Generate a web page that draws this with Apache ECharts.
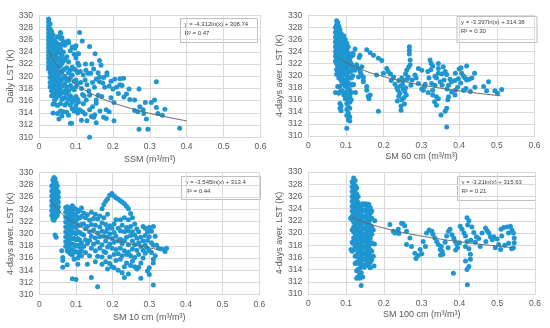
<!DOCTYPE html>
<html>
<head>
<meta charset="utf-8">
<script src="https://cdn.jsdelivr.net/npm/echarts@6/dist/echarts.min.js"></script>
<style>html,body{margin:0;padding:0;background:#fff;}#c{width:550px;height:328px;}</style>
</head>
<body>
<div id="c"></div>
<script>
// ---------- DATA ----------
const xTicks = [0, 0.1, 0.2, 0.3, 0.4, 0.5, 0.6];
const yTicks = [310, 312, 314, 316, 318, 320, 322, 324, 326, 328, 330];

// Panel 1: SSM vs Daily LST  (columns: [x, [y...]] and single points)
const ssmCols = [
 [0.026,[329.4,328.9,328.3,327.7,327.1,326.5,325.9,325.3,324.7,324.1,323.5,322.9,322.3,321.7,321.2]],
 [0.030,[328.6,327.8,327,326.2,325.4,324.6,323.8,323,322.2,321.4,320.6,319.8,319,318.3]],
 [0.034,[327.4,326.5,325.6,324.7,323.8,322.9,322,321.1,320.2,319.3,318.4,317.6,316.8]],
 [0.038,[326.8,325.9,325,324.1,323.2,322.3,321.4,320.5,319.6,318.7,317.8,316.9,315.4,314]],
 [0.042,[326,325.1,324.2,323.3,322.4,321.5,320.6,319.7,318.8,317.9,317,316.1,315.5]],
 [0.046,[325.6,324.5,323.6,322.7,321.8,320.9,320,319.1,318.2,317.3,316.4]],
 [0.050,[326.5,324.9,323.9,322.9,321.9,320.9,319.9,318.9,317.9,316.9,315.2,313.9]],
 [0.054,[325.2,323.8,322.6,321.6,320.6,319.6,318.6,317.6,316.8,313]],
 [0.058,[327,326.2,324.5,323,321.7,320.4,319.2,318,317.1,315.5,314.3]],
 [0.062,[326.3,325.2,323.4,322.1,320.8,319.6,318.4,317.3,316.2,313.5]],
 [0.066,[325.7,324,322.5,321,319.7,318.5,317.4,316.4,314.2]],
 [0.070,[322.8,321.2,320,318.8,317.6,316.5,315.3]],
 [0.075,[325.5,323.2,321.4,319.5,318.2,317,315.6,314.1]],
 [0.080,[325.5,322.4,320.6,319.3,317.6,316.2,313.6]],
 [0.085,[324.2,321,319.8,318.5,316.8,315.3,312.3]],
 [0.090,[324.8,321.5,320.2,318,316.4,315.8,314.7]],
 [0.095,[323.6,321.2,319.2,317.8,316,314.3]],
 [0.100,[325,323,321,319.4,318.3,316.7,315.2,314.6]],
 [0.105,[323.7,322.2,320.6,318.8,316.2,314]]
];
const ssmPts = [
 [0.11,327.2],[0.058,327.2],[0.117,325.8],[0.137,324.9],[0.152,323.7],[0.164,322.6],[0.126,322],[0.107,323.7],[0.079,325.8],[0.07,325.1],[0.097,324.6],
 [0.112,320.8],[0.12,320.2],[0.125,319.4],[0.13,318.6],[0.115,318],[0.135,317.6],[0.14,320.5],[0.145,319],[0.15,318.2],[0.155,319.5],[0.16,320.6],
 [0.184,320.6],[0.184,320.2],[0.164,319.9],[0.205,319.5],[0.219,319.6],[0.229,319.7],[0.219,318.6],[0.21,318.2],[0.2,317.9],[0.19,318.4],[0.178,318.2],[0.173,318.9],[0.164,319.1],
 [0.244,317.9],[0.237,317.1],[0.246,316.2],[0.271,317.9],[0.259,316.1],[0.318,319.1],[0.313,316.1],[0.318,314.9],[0.304,315.7],[0.288,315.7],[0.273,315.0],[0.259,314.4],[0.268,314.2],[0.282,314.5],[0.284,313.9],[0.291,313.0],[0.271,311.3],[0.295,311.3],[0.322,313.9],[0.334,313.6],[0.341,314.6],[0.381,311.5],
 [0.203,315.7],[0.203,312.7],[0.182,314.5],[0.182,313.1],[0.155,315.6],[0.151,313.7],[0.155,312.4],[0.137,314.5],[0.115,312.8],[0.088,312.3],[0.137,310.0],[0.142,313.4],[0.128,316.1],[0.137,316.9],[0.155,316.1],[0.17,316.7],[0.145,315],[0.12,315.5],[0.125,313.8],[0.148,313.3],[0.165,314.3],[0.16,316.9],[0.19,314.2],[0.175,313.3],
 [0.108,321.8],[0.113,319],[0.118,317],[0.122,316.8],[0.127,321],[0.133,320.5],[0.143,322],[0.148,321.2],[0.168,321.8],[0.175,319.8],[0.195,319.2],[0.215,317.2],[0.225,318.5],[0.195,316.5],[0.23,316.6],[0.107,315.8],[0.11,314.5],[0.118,314.2],[0.13,312.7]
];
const ssmTrend = [[0.027,324.31],[0.03,323.86],[0.04,322.62],[0.05,321.66],[0.07,320.21],[0.1,318.67],[0.15,316.92],[0.2,315.68],[0.25,314.72],[0.3,313.93],[0.35,313.27],[0.4,312.69]];

// Panel 2: SM 60 cm
const sm60Cols = [
 [0.072,[328,327.2,326.4,325.6,324.8,324,323.2,322.4,317.2]],
 [0.075,[329.1,328.4,327.6,326.8,326,325.2,324.4,323.6,322.8,322,321,320.2]],
 [0.078,[328.8,328,327.2,326.4,325.6,324.8,324,323.2,322.4,321.6,320.6,318.2]],
 [0.081,[328.2,327.4,326.6,325.8,325,324.2,323.4,322.6,321.8,320.8,319.6,317.1]],
 [0.084,[327.6,326.8,326,325.2,324.4,323.6,322.8,322,321,320,318.2,317.4,315.4,314.6]],
 [0.087,[327,326.2,325.4,324.6,323.8,323,322.2,321.4,320.5,319.2,315,314.2]],
 [0.090,[326.4,325.6,324.8,324,323.2,322.4,321.6,320.6,319.8,318.8,317.5]],
 [0.094,[326.6,325.6,324.6,323.6,322.6,321.6,320.5,318.6,316.8]],
 [0.098,[326,325,324,323,322,321.2,320.2,319.2,318.2,317.2,316.2]],
 [0.102,[325.4,324.4,323.4,322.4,321.4,320.4,319.4,318.4,317.4,316.4,315.4,314.4,313.4,311.3]],
 [0.106,[324.8,323.8,322.8,321.8,320.8,319.8,318.8,317.8,316.8,315.8,314.8,313.8,312.7]],
 [0.110,[323.6,322.6,321.6,320.6,319.6,318.6,317.6,316.6,315.6,314.6,313.2,312.5]],
 [0.114,[323.2,322,320.8,319.6,318.4,317.2,316]],
 [0.118,[323.4,321.5,320,318.6]]
];
const sm60Pts = [
 [0.119,323.7],[0.124,324.4],[0.137,323.4],[0.128,321.8],[0.133,321.2],[0.138,320.6],[0.146,319.8],[0.146,319.2],[0.14,320.2],[0.155,324.3],[0.164,323.8],[0.173,323.4],[0.186,322.9],[0.195,322.5],[0.142,321.5],[0.133,319.8],[0.146,319.0],[0.155,317.6],[0.164,316.8],[0.161,316.2],[0.159,316.6],[0.155,318.2],[0.181,320.1],[0.199,320.4],[0.186,314.1],[0.124,320.9],[0.12,318.5],[0.125,317.2],[0.135,323],
 [0.212,320.7],[0.208,321.2],[0.218,320.3],[0.226,319.8],[0.22,319.2],[0.23,318.6],[0.235,318],[0.238,317.6],[0.243,317.1],[0.248,316],[0.246,315],[0.246,314.3],[0.25,318.6],[0.252,319.2],[0.256,317.4],[0.24,316.6],[0.244,318.3],[0.254,316.4],[0.258,318],[0.248,319.6],[0.262,319.4],[0.265,319.8],[0.261,320.9],[0.27,321.8],[0.268,324.8],[0.268,324.2],[0.268,323.6],[0.27,322.6],[0.266,321.4],[0.292,321.2],[0.301,320.9],[0.283,320.1],[0.275,319.3],[0.272,318.4],[0.26,316.8],[0.255,315.3],[0.236,315.8],[0.24,319.2],[0.258,320.3],[0.252,317.8],[0.292,318.7],[0.301,317.8],[0.286,319.6],
 [0.323,322.6],[0.326,322],[0.33,321.6],[0.317,320.7],[0.32,319.6],[0.327,318.7],[0.336,318.4],[0.34,319.6],[0.345,321.2],[0.354,320.3],[0.35,319],[0.33,317.6],[0.33,316.8],[0.34,316.5],[0.345,316.2],[0.335,315.7],[0.34,315.1],[0.352,313.5],[0.363,314.1],[0.367,314.6],[0.37,316],[0.372,316.5],[0.367,311.5],[0.305,317.6],[0.308,318.2],[0.31,318.6],[0.336,319.9],[0.345,320.4],[0.358,321.5],[0.363,320.7],[0.367,320.2],[0.376,319.4],[0.38,319],[0.389,319.2],[0.398,319.5],[0.4,321.1],[0.405,321.3],[0.407,320.4],[0.412,319.9],[0.416,319.6],[0.42,319.3],[0.427,319.4],[0.434,319.6],[0.441,320.4],[0.442,318.1],[0.412,317.6],[0.418,317.9],[0.39,317.6],[0.396,318.1],[0.372,318.4],[0.368,317.8],[0.38,317.3],[0.389,316.8],[0.473,317.5],[0.465,318.2],[0.478,319.0],[0.495,317.5],[0.502,317.1],[0.513,317.7],[0.42,321.6],[0.404,318.8],[0.43,317.4],[0.355,318.4],[0.36,319.3],[0.318,317.2],[0.325,321],[0.345,322],[0.39,320.4]
];
const sm60Trend = [[0.075,323.18],[0.1,322.2],[0.15,320.82],[0.2,319.85],[0.25,319.09],[0.3,318.47],[0.35,317.95],[0.4,317.49],[0.45,317.09],[0.51,316.67]];

// Panel 3: SM 10 cm
const sm10Cols = [
 [0.034,[327.8,327,326.2,325.4,324.6,323.8,323]],
 [0.037,[328.8,328,327.2,326.4,325.6,324.8,324,323.2,322.4]],
 [0.040,[329.2,328.4,327.6,326.8,326,325.2,324.4,323.6,322.8,322.2]],
 [0.043,[329,328.2,327.4,326.6,325.8,325,324.2,323.4,322.6,319.8]],
 [0.046,[328.4,327.6,326.8,326,325.2,324.4,323.6,322.8,319.4]],
 [0.049,[327.8,327,326.2,325.4,324.6,323.8,323]],
 [0.052,[326.8,326,325.2,324.4,323.6]],
 [0.072,[324.3,323.5,322.7,321.9,321.1,320.3,319.5,318.7,317.9]],
 [0.076,[324.4,323.6,322.8,322,321.2,320.4,319.6,318.8,318,317.2,314.9]],
 [0.080,[324.2,323.4,322.6,321.8,321,320.2,319.4,318.6,317.8,317]],
 [0.085,[323.9,323.1,322.3,321.5,320.7,319.9,319.1,318.3,317.5,316.7]],
 [0.090,[324.6,323.7,322.8,321.9,321,320.1,319.2,318.3,317.4,316.5,312.6]],
 [0.095,[324.2,323.2,322.2,321.2,320.2,319.2,318.2,317.2,315.8]],
 [0.100,[324,323,322,321,320,319,318,317,312.5]],
 [0.105,[323.6,322.5,321.4,320.3,319.2,318.1,317,316,315]],
 [0.110,[323.8,322.6,321.4,320.2,319,317.8,316.6]],
 [0.115,[324.2,322.8,321.5,320,318.5,317.2,316.4]],
 [0.121,[323.4,321.6,319.8,317.9]],
 [0.126,[322.6,320.8,319,316.9]],
 [0.131,[323.1,321.2,318.4,315]],
 [0.137,[322.2,320.3,318.9,316.4]],
 [0.142,[323.5,321.5,319.6,317.6,312.8]],
 [0.148,[322.5,320.6,318.3]],
 [0.153,[323.2,321.4,319.3,317.2,315.4]],
 [0.159,[322.4,320.1,318.6,316.3,311.3]],
 [0.165,[322.9,321.1,319.5,317.6]],
 [0.171,[324.1,321.8,320.4,318.2,316.2,315]],
 [0.176,[324.8,322.6,319.6,317.1]],
 [0.181,[325.3,321.5,320.3,318.8,316.9,315.4]],
 [0.186,[325.7,323.2,320.8,319.4,317.8,314.2]],
 [0.192,[326.3,321.3,320,318.3,316.2,315.1]],
 [0.198,[326.6,320.9,319.2,317.6,314.6]],
 [0.204,[326.2,321.6,320.2,318.6,316.6,314.4]],
 [0.209,[325.9,322.3,319.6,317.4,315.6]],
 [0.215,[325.7,320.9,318.8,316.7,314]],
 [0.221,[325.4,322.3,320.5,319.1,317.6,315.8]],
 [0.226,[325.2,321.4,318.4,316.4,313.6]],
 [0.232,[324.9,322.6,320.3,318.9,317.2,314.6,312.8]],
 [0.238,[324.5,321,319.4,316.6,315.2]],
 [0.243,[324.1,322.3,320.5,318.2,317,313.4]],
 [0.249,[323.3,321.2,319.7,316.4,314.8]],
 [0.254,[322.6,320.3,318.8,317.5,315.5]],
 [0.260,[321.6,319.8,318.2,316.1,314.6]],
 [0.266,[320.8,319.3,317.3,314.2]],
 [0.271,[320.3,318.5,316.6,314.5]],
 [0.277,[319.4,317.9,315.2,312.7]],
 [0.283,[321.2,318.8,317.3,316]],
 [0.289,[320.9,319.7,318.1,316.8]],
 [0.295,[320.3,318.9,317.6,313.9]],
 [0.300,[321,319.5,317.2,314.4,313.3]],
 [0.306,[320.4,318.5,316.9]],
 [0.311,[321.2,318.1,315.8,315.2,311.6]],
 [0.316,[319.6,316.4]]
];
const sm10Pts = [[0.061,317.2],[0.064,316.1],[0.064,315.6],[0.064,314.5],[0.325,317.6],[0.334,317.5],[0.343,317.1],[0.347,317.6],[0.32,318.1]];
const sm10Trend = [[0.035,325.28],[0.04,324.81],[0.05,324.02],[0.07,322.83],[0.1,321.56],[0.15,320.13],[0.2,319.11],[0.25,318.31],[0.3,317.67],[0.33,317.33]];

// Panel 4: SM 100 cm
const sm100Cols = [
 [0.116,[328.4,327.6,326.8,326,325.2,324.4,323.6,322.8,322.2,320.5,318.5,317]],
 [0.120,[329,328.2,327.4,326.6,325.8,325,324.2,323.4,322.6,321.8,321,320.2,319.2,318.2,317.2]],
 [0.124,[328.6,327.8,327,326.2,325.4,324.6,323.8,323,322.2,321.4,320.6,319.8,318.8,317.6,316.2,315]],
 [0.128,[327.4,326.4,325.4,324.4,323.4,322.4,321.4,320.4,319.4,318.4,317.4,316.4,315.2,313.8,312.6]],
 [0.132,[326,325,324,323,322,321,320,319,318,317,316,315,314,312.8]],
 [0.136,[324.2,323.2,322.2,321.2,320.2,319.2,318.2,317.2,316.2,315.2,314.2,313.2,312.6]],
 [0.140,[324.5,323.5,322.5,321.5,320.5,319.5,318.5,317.5,316.5,315.5,314.6,313.5,311.4]],
 [0.144,[324.8,323.8,322.8,321.8,320.8,319.8,318.8,317.8,316.8,315.8,314.8,312.8]],
 [0.148,[324.6,323.6,322.6,321.6,320.6,319.6,318.6,317.6,316.6,315.6,314.4]],
 [0.152,[324.8,323.8,322.8,321.8,320.8,319.8,318.8,317.8,316.8,315.8,314.8]],
 [0.156,[324.4,323.4,322.4,321.4,320.4,319.4,318.4,317.4,316.4,315.4]],
 [0.160,[324.7,323.7,322.7,321.7,320.7,319.7,318.7,317.7,316.7,315.7,314.6]],
 [0.164,[324.2,323.2,322.2,321.2,320.2,319.2,318.2,317.2,316.2,315.2,314.3]],
 [0.168,[323.6,322.4,321,319.8,318.4,317,315.6]]
];
const sm100Pts = [
 [0.112,322.4],[0.113,317.3],[0.176,322],[0.172,320.5],[0.175,318.2],[0.172,316.2],[0.174,314.6],
 [0.216,321.4],[0.225,320.3],[0.229,320],[0.238,320.6],[0.247,321.6],[0.251,321.5],[0.255,321.2],[0.26,320.3],[0.269,319.2],[0.273,317.8],[0.282,316.7],[0.291,316.3],[0.296,317.3],[0.304,318.6],[0.313,320],[0.32,320.5],[0.327,320.3],[0.33,319.8],[0.335,319.2],[0.34,318.6],[0.344,318.1],[0.349,317.3],[0.354,317],[0.352,317.8],[0.356,316.5],[0.362,318.5],[0.366,319.5],[0.371,320.3],[0.375,320.6],[0.38,319.7],[0.385,319.2],[0.389,318.6],[0.393,318.2],[0.384,313.4],[0.402,321.1],[0.407,320.6],[0.412,320],[0.416,319.5],[0.42,322.5],[0.425,322],[0.422,321.3],[0.433,321],[0.438,320.1],[0.42,318.6],[0.416,317.8],[0.425,317.4],[0.429,316.5],[0.416,315.4],[0.425,314.5],[0.42,314],[0.421,311.5],[0.429,315.7],[0.442,318.5],[0.451,319.1],[0.46,320],[0.469,320.8],[0.473,320.4],[0.478,320],[0.482,319.4],[0.487,318.9],[0.491,319.4],[0.5,319],[0.504,318.1],[0.509,317.3],[0.512,319.5],[0.517,320.9],[0.526,321],[0.535,321.1],[0.539,320.5],[0.543,320],[0.545,319.2],[0.545,318.4],[0.543,317.6],[0.538,317.4],[0.53,318.3],[0.52,318],[0.495,317.6],[0.455,317.8],[0.445,319.4],[0.4,318.4],[0.395,317.6],[0.39,317.2],[0.31,317.8],[0.3,316.6],[0.24,319.9],[0.26,318.1],[0.285,315.8],[0.35,316.4],[0.37,317.6],[0.43,318.8],[0.47,318.6],[0.51,320.6],[0.53,320]
];
const sm100Trend = [[0.115,322.57],[0.13,322.18],[0.15,321.72],[0.2,320.8],[0.25,320.08],[0.3,319.49],[0.35,319.0],[0.4,318.57],[0.45,318.19],[0.5,317.86],[0.545,317.58]];

const xNames = ['SSM (m\u00b3/m\u00b3)', 'SM 60 cm (m\u00b3/m\u00b3)', 'SM 10 cm (m\u00b3/m\u00b3)', 'SM 100 cm (m\u00b3/m\u00b3)'];
const yNames = ['Daily LST (K)', '4-days aver. LST (K)', '4-days aver. LST (K)', '4-days aver. LST (K)'];
const eqTexts = ['y = -4.312ln(x) + 308.74', 'y = -3.397ln(x) + 314.38', 'y = -3.545ln(x) + 313.4', 'y = -3.21ln(x) + 315.63'];
const r2Texts = ['R\u00b2 = 0.47', 'R\u00b2 = 0.30', 'R\u00b2 = 0.44', 'R\u00b2 = 0.21'];

// ---------- BUILD ----------
function flat(cols, pts) {
  const out = [];
  cols.forEach(c => c[1].forEach(y => out.push([c[0], y])));
  return out.concat(pts);
}
const scatterData = [flat(ssmCols, ssmPts), flat(sm60Cols, sm60Pts), flat(sm10Cols, sm10Pts), flat(sm100Cols, sm100Pts)];
const trends = [ssmTrend, sm60Trend, sm10Trend, sm100Trend];

const layout = [
  {grid:{left:39, top:15.3, width:221.5, height:122}, xGap:17.5, yGap:20.5, box:[180,18,77,24]},
  {grid:{left:308.3, top:15.3, width:226.2, height:120.8}, xGap:16, yGap:18.5, box:[456.5,16,80,26]},
  {grid:{left:39.3, top:172.7, width:220, height:122}, xGap:18.5, yGap:20.5, box:[181,176,79,23]},
  {grid:{left:308.3, top:172, width:226.7, height:122}, xGap:16, yGap:18.5, box:[457,176,78,24]}
];

const FONT = "'Liberation Sans Narrow','Liberation Sans',Arial,sans-serif";
const BLUE = '#1E96D2';
const GRID = '#d9d9d9';
const TXT = '#595959';

const option = {
  animation: false,
  grid: layout.map(l => Object.assign({containLabel:false}, l.grid)),
  xAxis: layout.map((l, i) => ({
    gridIndex: i, type: 'value', min: 0, max: 0.6, interval: 0.1,
    name: xNames[i], nameLocation: 'middle', nameGap: l.xGap,
    nameTextStyle: {color: TXT, fontSize: 9, fontFamily: FONT},
    axisLine: {show: true, lineStyle: {color: GRID}},
    axisTick: {show: false},
    axisLabel: {color: TXT, fontSize: 8.5, fontFamily: FONT, margin: 5},
    splitLine: {show: true, lineStyle: {color: GRID, width: 1}}
  })),
  yAxis: layout.map((l, i) => ({
    gridIndex: i, type: 'value', min: 310, max: 330, interval: 2,
    name: yNames[i], nameLocation: 'middle', nameGap: l.yGap,
    nameTextStyle: {color: TXT, fontSize: 9, fontFamily: FONT},
    axisLine: {show: true, lineStyle: {color: GRID}},
    axisTick: {show: false},
    axisLabel: {color: TXT, fontSize: 8.5, fontFamily: FONT, margin: 6},
    splitLine: {show: true, lineStyle: {color: GRID, width: 1}}
  })),
  series: [].concat(
    scatterData.map((d, i) => ({
      type: 'scatter', xAxisIndex: i, yAxisIndex: i, data: d,
      symbolSize: 5, itemStyle: {color: BLUE, opacity: 1}, z: 2
    })),
    trends.map((d, i) => ({
      type: 'line', xAxisIndex: i, yAxisIndex: i, data: d, smooth: true,
      showSymbol: false, lineStyle: {color: '#666666', width: 1}, z: 3
    }))
  ),
  graphic: layout.map((l, i) => ({
    type: 'group', left: l.box[0], top: l.box[1],
    children: [
      {type: 'rect', shape: {x: 0, y: 0, width: l.box[2], height: l.box[3]},
       style: {fill: '#fff', stroke: '#bfbfbf', lineWidth: 1}},
      {type: 'text', x: 4, y: 3, style: {text: eqTexts[i], fill: '#404040', font: '6px ' + FONT}},
      {type: 'text', x: 4, y: 11.5, style: {text: r2Texts[i], fill: '#404040', font: '6px ' + FONT}}
    ]
  }))
};

const chart = echarts.init(document.getElementById('c'), null, {renderer: 'canvas'});
chart.setOption(option);
</script>
</body>
</html>
